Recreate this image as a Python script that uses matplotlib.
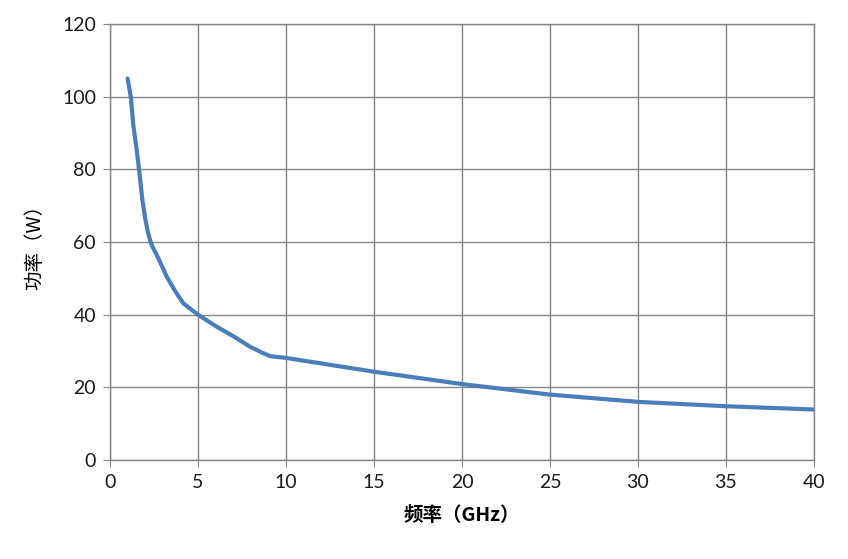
import matplotlib
matplotlib.use("Agg")
import matplotlib.pyplot as plt

plt.rcParams['font.family'] = ['Lato', 'Noto Sans CJK SC', 'DejaVu Sans']

# frequency (GHz) and power (W)
freq = [1.0, 1.18, 1.33, 1.5, 1.65, 1.84, 2.0, 2.15, 2.31, 2.42, 2.8, 3.22, 3.7, 4.17, 5.0,
        6.06, 7.0, 7.95, 8.71, 9.09, 10.0, 15.0, 20.0, 25.0, 30.0, 35.0, 40.0]
power = [105.0, 100.0, 92.0, 86.0, 80.0, 71.6, 66.5, 62.8, 60.0, 58.7, 55.0, 50.5, 46.5, 43.1, 40.0,
         36.7, 34.1, 31.2, 29.4, 28.6, 28.1, 24.3, 20.9, 18.0, 16.0, 14.8, 13.9]

xticks = [0, 5, 10, 15, 20, 25, 30, 35, 40]
yticks = [0, 20, 40, 60, 80, 100, 120]

grid_col = '#868686'

fig = plt.figure(figsize=(8.48, 5.59), dpi=100)
ax = fig.add_axes([0.1297, 0.1771, 0.8302, 0.7799])

ax.plot(freq, power, color='#4A7EBB', linewidth=3.0,
        solid_capstyle='round', solid_joinstyle='round')

ax.set_xlim(0, 40)
ax.set_ylim(0, 120)
ax.set_xticks(xticks)
ax.set_yticks(yticks)
ax.grid(True, color=grid_col, linewidth=1.0)
ax.set_axisbelow(True)
for s in ax.spines.values():
    s.set_color(grid_col)
    s.set_linewidth(1.0)
ax.tick_params(axis='both', direction='out', length=5, color=grid_col,
               labelsize=14, labelcolor='#1a1a1a', pad=5)

ax.set_xlabel('频率（GHz）', fontsize=14, fontweight='bold',
              family=['Noto Sans CJK SC', 'DejaVu Sans'], labelpad=11)
ax.set_ylabel('功率（W）', fontsize=14,
              family=['Noto Sans CJK SC', 'DejaVu Sans'], labelpad=12)

fig.savefig('out.png', dpi=100)
